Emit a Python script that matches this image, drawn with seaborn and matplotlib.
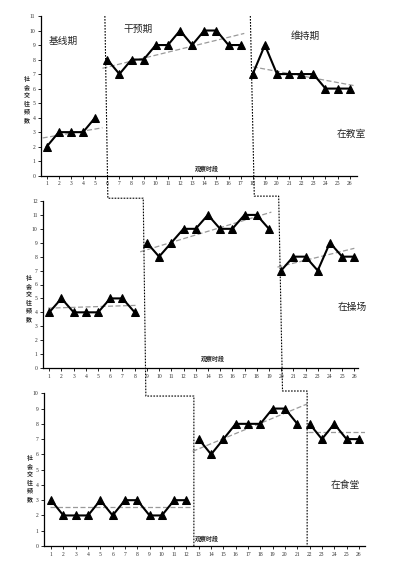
import numpy as np
import matplotlib
matplotlib.use("Agg")
import matplotlib.pyplot as plt
from matplotlib.lines import Line2D
import seaborn as sns

sns.set_style("white")
plt.rcParams['font.family'] = ['Noto Sans CJK SC', 'DejaVu Sans']

# ---- data ----
# 在教室
room_base_x = [1, 2, 3, 4, 5]
room_base_y = [2, 3, 3, 3, 4]
room_int_x = list(range(6, 18))
room_int_y = [8, 7, 8, 8, 9, 9, 10, 9, 10, 10, 9, 9]
room_main_x = list(range(18, 27))
room_main_y = [7, 9, 7, 7, 7, 7, 6, 6, 6]

# 在操场
yard_base_x = list(range(1, 9))
yard_base_y = [4, 5, 4, 4, 4, 5, 5, 4]
yard_int_x = list(range(9, 20))
yard_int_y = [9, 8, 9, 10, 10, 11, 10, 10, 11, 11, 10]
yard_main_x = list(range(20, 27))
yard_main_y = [7, 8, 8, 7, 9, 8, 8]

# 在食堂
hall_base_x = list(range(1, 13))
hall_base_y = [3, 2, 2, 2, 3, 2, 3, 3, 2, 2, 3, 3]
hall_int_x = list(range(13, 22))
hall_int_y = [7, 6, 7, 8, 8, 8, 9, 9, 8]
hall_main_x = list(range(22, 27))
hall_main_y = [8, 7, 8, 7, 7]

# trend lines: (x0, x1), (y0, y1) per phase
room_trend_x = [(0.67, 5.6), (5.6, 17.3), (18.0, 26.4)]
room_trend_y = [(2.6, 3.3), (7.4, 9.8), (7.5, 6.2)]
yard_trend_x = [(0.9, 8.1), (8.45, 19.2), (19.7, 26.0)]
yard_trend_y = [(4.3, 4.5), (8.35, 11.2), (7.25, 8.6)]
hall_trend_x = [(0.92, 12.25), (12.5, 21.8), (21.9, 26.8)]
hall_trend_y = [(2.55, 2.55), (6.2, 9.3), (7.47, 7.47)]

# phase change positions for each setting
room_phase = [5.8, 17.8]
yard_phase = [8.7, 19.8]
hall_phase = [12.6, 21.8]

settings = ["在教室", "在操场", "在食堂"]
phase_names = ["基线期", "干预期", "维持期"]
ylabel = "社会交往频数"
xlabel = "观察时段"

W, H = 398, 569
fig = plt.figure(figsize=(W / 100, H / 100), dpi=100)


def px_box(left, right, top, bottom):
    return [left / W, 1 - bottom / H, (right - left) / W, (bottom - top) / H]


def ftxt(px, py, s, **kw):
    fig.text(px / W, 1 - py / H, s, ha="center", va="center", **kw)


panels = [
    dict(box=px_box(41, 357, 16, 175.7), xlim=(0.53, 26.6), ymax=11,
         series=[(room_base_x, room_base_y), (room_int_x, room_int_y), (room_main_x, room_main_y)],
         tx=room_trend_x, ty=room_trend_y),
    dict(box=px_box(43.3, 358, 201, 368), xlim=(0.51, 26.3), ymax=12,
         series=[(yard_base_x, yard_base_y), (yard_int_x, yard_int_y), (yard_main_x, yard_main_y)],
         tx=yard_trend_x, ty=yard_trend_y),
    dict(box=px_box(44.3, 365, 393.3, 546), xlim=(0.45, 26.5), ymax=10,
         series=[(hall_base_x, hall_base_y), (hall_int_x, hall_int_y), (hall_main_x, hall_main_y)],
         tx=hall_trend_x, ty=hall_trend_y),
]

axes = []
for p in panels:
    ax = fig.add_axes(p["box"])
    axes.append(ax)
    for (x0, x1), (y0, y1) in zip(p["tx"], p["ty"]):
        ax.plot([x0, x1], [y0, y1], color="#9a9a9a", lw=0.9, ls=(0, (4, 2)), zorder=1)
    for xs, ys in p["series"]:
        sns.lineplot(x=xs, y=ys, ax=ax, color="black", lw=1.5, marker="^",
                     markersize=5.5, markeredgecolor="black", zorder=3)
    ax.set_xlim(*p["xlim"])
    ax.set_ylim(0, p["ymax"])
    ax.set_xticks(range(1, 27))
    ax.set_yticks(range(0, p["ymax"] + 1))
    ax.tick_params(axis="both", direction="out", length=2, width=0.6, pad=2,
                   labelsize=4.1, colors="black", left=True, bottom=True)
    for lab in ax.get_xticklabels() + ax.get_yticklabels():
        lab.set_family("Liberation Serif")
        lab.set_color("#333333")
    for side in ["top", "right"]:
        ax.spines[side].set_visible(False)
    for side in ["left", "bottom"]:
        ax.spines[side].set_color("black")
        ax.spines[side].set_linewidth(0.9)
    ax.patch.set_alpha(0)

# staircase phase-change lines across the three panels
phases = [room_phase, yard_phase, hall_phase]
step_levels = [[12.2, 9.82], [12.35, 10.15]]  # in y units of the lower panel
inv = fig.transFigure.inverted()


def to_fig(ax, x, y):
    return inv.transform(ax.transData.transform((x, y)))


for j in range(2):
    pts = [to_fig(axes[0], phases[0][j], panels[0]["ymax"])]
    for k in range(1, 3):
        lvl = step_levels[j][k - 1]
        pts.append(to_fig(axes[k], phases[k - 1][j], lvl))
        pts.append(to_fig(axes[k], phases[k][j], lvl))
    pts.append(to_fig(axes[2], phases[2][j], 0))
    pts = np.array(pts)
    fig.add_artist(Line2D(pts[:, 0], pts[:, 1], transform=fig.transFigure,
                          color="black", lw=0.8, ls=(0, (1.5, 1.2))))

# texts
ftxt(63, 41, phase_names[0], fontsize=7)
ftxt(138, 29, phase_names[1], fontsize=7)
ftxt(305, 36, phase_names[2], fontsize=7)

setting_pos = [(351, 134), (352, 307), (345, 485)]
xlabel_pos = [(207, 168), (213, 359), (207, 539)]
ylabel_pos = [(27, 99), (29, 298), (30, 478)]
for name, sp, xp, yp in zip(settings, setting_pos, xlabel_pos, ylabel_pos):
    ftxt(*sp, name, fontsize=7)
    ftxt(*xp, xlabel, fontsize=4.3, fontweight="bold")
    ftxt(*yp, "\n".join(ylabel), fontsize=4.3, fontweight="bold", linespacing=1.2)

fig.savefig("out.png", dpi=100)
